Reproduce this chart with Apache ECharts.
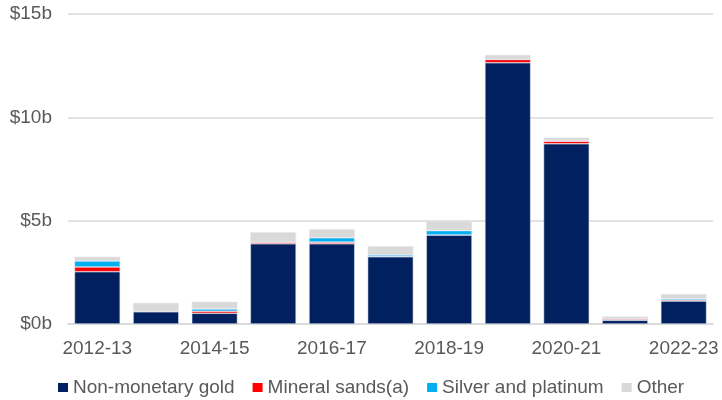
<!DOCTYPE html>
<html>
<head>
<meta charset="utf-8">
<style>html,body{margin:0;padding:0;background:#fff;}#chart{width:722px;height:400px;}</style>
<script src="https://cdn.jsdelivr.net/npm/echarts@6/dist/echarts.min.js"></script>
</head>
<body>
<div id="chart"></div>
<script>
const categories = ['2012-13','2013-14','2014-15','2015-16','2016-17','2017-18','2018-19','2019-20','2020-21','2021-22','2022-23'];
const gold   = [2.53, 0.60, 0.52, 3.88, 3.88, 3.26, 4.31, 12.64, 8.72, 0.18, 1.11];
const sands  = [0.23, 0.00, 0.10, 0.08, 0.08, 0.00, 0.00, 0.16, 0.12, 0.06, 0.05];
const silver = [0.29, 0.00, 0.11, 0.00, 0.21, 0.08, 0.21, 0.00, 0.03, 0.00, 0.06];
const other  = [0.21, 0.42, 0.35, 0.48, 0.42, 0.42, 0.45, 0.22, 0.15, 0.12, 0.23];
const yTicks = [0, 5, 10, 15];

const font = 'Liberation Sans, Arial, sans-serif';
const txt = '#595959';
function s(name, data, color) {
  return {
    name, type: 'bar', stack: 'total', data, barWidth: '78%',
    itemStyle: { color, borderColor: 'rgba(230,230,240,0.9)', borderWidth: 0.6 },
    emphasis: { disabled: true }
  };
}
const chart = echarts.init(document.getElementById('chart'), null, { renderer: 'canvas' });
chart.setOption({
  animation: false,
  grid: { left: 68, right: 9, top: 14, bottom: 76 },
  legend: {
    left: 53, top: 373, itemWidth: 10, itemHeight: 9, itemGap: 18,
    icon: 'rect',
    itemStyle: { borderWidth: 0 },
    textStyle: { fontFamily: font, fontSize: 19, color: txt },
    data: ['Non-monetary gold', 'Mineral sands(a)', 'Silver and platinum', 'Other']
  },
  xAxis: {
    type: 'category', data: categories,
    axisLine: { lineStyle: { color: '#d9d9d9', width: 1.5 } },
    axisTick: { show: false },
    axisLabel: { interval: 1, margin: 15, fontFamily: font, fontSize: 19, color: txt }
  },
  yAxis: {
    type: 'value', min: yTicks[0], max: yTicks[yTicks.length - 1], interval: 5,
    axisLine: { show: false }, axisTick: { show: false },
    splitLine: { lineStyle: { color: '#d9d9d9', width: 1.5 } },
    axisLabel: { margin: 16, fontFamily: font, fontSize: 19, color: txt, formatter: v => '$' + v + 'b' }
  },
  series: [
    s('Non-monetary gold', gold, '#002060'),
    s('Mineral sands(a)', sands, '#ff0000'),
    s('Silver and platinum', silver, '#00b0f0'),
    s('Other', other, '#d9d9d9')
  ]
});
</script>
</body>
</html>
